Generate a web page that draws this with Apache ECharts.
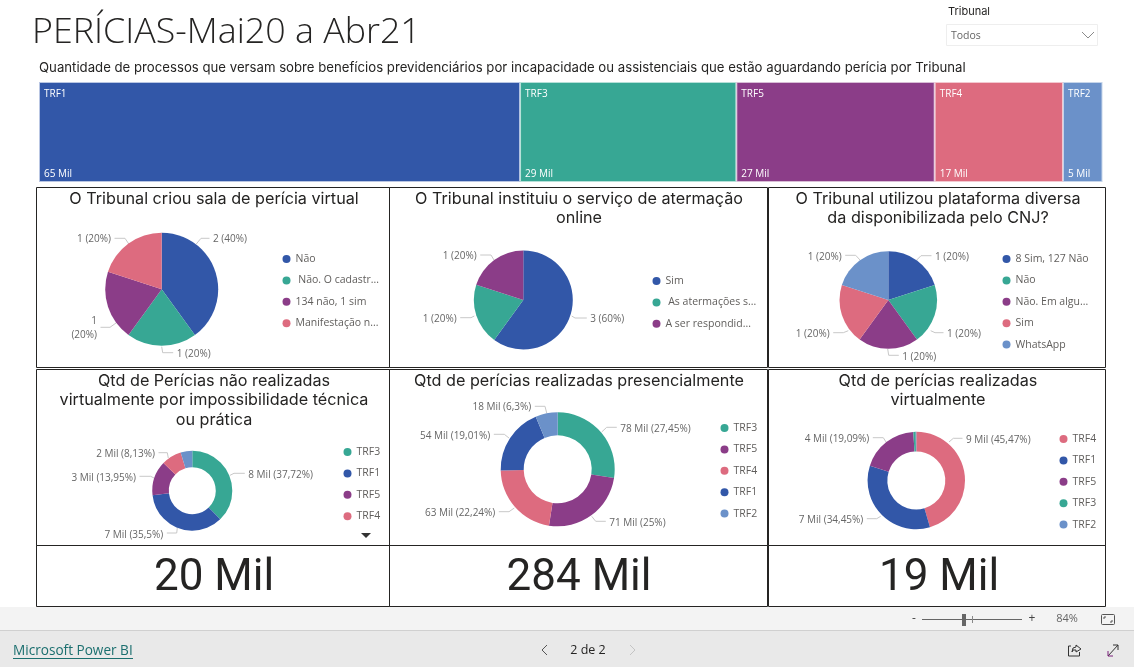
<!DOCTYPE html>
<html><head><meta charset="utf-8">
<style>html,body{margin:0;padding:0;background:#fff}#c{width:1134px;height:667px}</style>
<script src="https://cdn.jsdelivr.net/npm/echarts@6/dist/echarts.min.js"></script>
</head><body><div id="c"></div>
<script>
const BLUE='#3257A8',TEAL='#37A794',PURPLE='#8B3D88',PINK='#DD6B7F',SKY='#6B91C9';
const PALE={[BLUE]:'#b9c6e3',[TEAL]:'#b5e0d8',[PURPLE]:'#d8bdd6',[PINK]:'#f3c8d0',[SKY]:'#c6d5ea'};

// Treemap
const treeNames=['TRF1','TRF3','TRF5','TRF4','TRF2'];
const treeValues=[64.5,29.0,26.6,17.2,5.3];
const treeLabels=['65 Mil','29 Mil','27 Mil','17 Mil','5 Mil'];
const treeColors=[BLUE,TEAL,PURPLE,PINK,SKY];

// Pie 1
const p1Names=['Não',' Não. O cadastr...','134 não, 1 sim','Manifestação n...'];
const p1Values=[2,1,1,1];
const p1Labels=['2 (40%)','1 (20%)','1\n(20%)','1 (20%)'];
const p1Colors=[BLUE,TEAL,PURPLE,PINK];
// Pie 2
const p2Names=['Sim',' As atermações s...','A ser respondid...'];
const p2Values=[3,1,1];
const p2Labels=['3 (60%)','1 (20%)','1 (20%)'];
const p2Colors=[BLUE,TEAL,PURPLE];
// Pie 3
const p3Names=['8 Sim, 127 Não','Não','Não. Em algu...','Sim','WhatsApp'];
const p3Values=[1,1,1,1,1];
const p3Labels=['1 (20%)','1 (20%)','1 (20%)','1 (20%)','1 (20%)'];
const p3Colors=[BLUE,TEAL,PURPLE,PINK,SKY];
// Donut 4
const d4Names=['TRF3','TRF1','TRF5','TRF4','TRF2'];
const d4Values=[37.72,35.5,13.95,8.13,4.7];
const d4Labels=['8 Mil (37,72%)','7 Mil (35,5%)','3 Mil (13,95%)','2 Mil (8,13%)',''];
const d4Colors=[TEAL,BLUE,PURPLE,PINK,SKY];
const d4Legend=['TRF3','TRF1','TRF5','TRF4'];
// Donut 5
const d5Names=['TRF3','TRF5','TRF4','TRF1','TRF2'];
const d5Values=[27.45,25,22.24,19.01,6.3];
const d5Labels=['78 Mil (27,45%)','71 Mil (25%)','63 Mil (22,24%)','54 Mil (19,01%)','18 Mil (6,3%)'];
const d5Colors=[TEAL,PURPLE,PINK,BLUE,SKY];
// Donut 6
const d6Names=['TRF4','TRF1','TRF5','TRF3','TRF2'];
const d6Values=[45.47,34.45,19.09,0.8,0.19];
const d6Labels=['9 Mil (45,47%)','7 Mil (34,45%)','4 Mil (19,09%)','',''];
const d6Colors=[PINK,BLUE,PURPLE,TEAL,SKY];

const UI='"Open Sans","Noto Sans",sans-serif', DIN='Inter,Roboto,sans-serif', NUM='Roboto,sans-serif';

// Callout placement of the labels: [align, text x, text y, line start x, y, elbow x, y]
const L='left',R='right';
const p1Spots=[[L,213,239,196,244.3,201,238.3],[L,176.7,354,161.7,346.7,162.7,352.7],[R,97,328,116,323,110,327.3],[R,111,239,129,244.3,125,238.3]];
const p2Spots=[[L,590.3,319,571.7,316,575,318],[R,456.7,319,474.3,316,471,317.7],[R,476.7,255.7,494,260,491,255]];
const p3Spots=[[L,935,257,916.7,260,921,255.7],[L,947,333.7,930.7,330.7,935,332.7],[L,902.3,356.7,887.7,349,888.7,355.3],[R,829.7,333.7,848.3,330.7,843.3,332.7],[R,841.7,257,860,260,855.7,255.3]];
const d4Spots=[[L,248.3,474.7,230,475.3,234,473.3],[R,163.3,534.7,177.3,528,176.7,533],[R,136,477.7,154,478,150.7,476.3],[R,155,453.7,168.3,458,167.3,452.7]];
const d5Spots=[[L,620.3,428.7,601.7,432,606.7,427.3],[L,609.3,523,591.7,516.3,595.7,521.3],[R,495.3,512.7,514.3,508,509,511.7],[R,490.3,435.7,509,438,504.3,434.3],[R,531.3,407.3,546.7,413,545,406.3]];
const d6Spots=[[L,966,439.7,949,442,953.3,438.3],[R,863.3,519.7,880.7,516.3,876.7,518.7],[R,869.3,439,886.7,443,883.3,437.7]];

function pie(names,values,labels,colors,cx,cy,radius,spots){
  return {type:'pie',center:[cx,cy],radius,startAngle:90,clockwise:true,avoidLabelOverlap:false,
    silent:true,animation:false,
    labelLine:{length:8,length2:10,lineStyle:{color:'#c8c8c8',width:1}},
    label:{fontFamily:UI,fontSize:10,color:'#666666',lineHeight:14},
    labelLayout:p=>{
      const s=spots[p.dataIndex]; if(!s) return {};
      const tail=s[0]===L?s[1]-3.5:s[1]+3.5;
      return {x:s[1],y:s[2],align:s[0],verticalAlign:'middle',labelLinePoints:[[s[3],s[4]],[s[5],s[6]],[tail,s[6]]]};
    },
    data:names.map((n,i)=>({name:n,value:values[i],itemStyle:{color:colors[i]},
      label:{show:!!labels[i],formatter:labels[i]},labelLine:{show:!!labels[i]}}))};
}
function legend(names,colors,x,y){
  return {orient:'vertical',left:x-1.5,top:y-5,padding:0,itemGap:9.4,itemWidth:8,itemHeight:8,icon:'circle',selectedMode:false,
    textStyle:{fontFamily:UI,fontSize:10.5,color:'#605E5C',height:12,lineHeight:12},
    data:names.map((n,i)=>({name:n,itemStyle:{color:colors[i]}}))};
}
function title(text,x,y){
  return {text,left:x,top:y,textAlign:'center',padding:0,
    textStyle:{fontFamily:DIN,fontSize:16.2,fontWeight:400,color:'#252423',lineHeight:19.5}};
}
function txt(text,x,y,size,color,extra){
  return {type:'text',x,y:y+1,z:5,style:Object.assign({text,fontSize:size,fill:color,fontFamily:UI,verticalAlign:'middle'},extra||{})};
}
function box(x,y,w,h){return {type:'rect',z:3,shape:{x:x+.5,y:y+.5,width:w,height:h},style:{fill:'none',stroke:'#252423',lineWidth:1}};}
function line(pts,stroke,w){return {type:'polyline',z:5,shape:{points:pts},style:{fill:'none',stroke,lineWidth:w||1}};}
function kpi(text,x){return txt(text,x,578,44,'#252423',{fontFamily:NUM,textAlign:'center'});}

const graphics=[
 {type:'rect',z:1,shape:{x:0,y:607,width:1134,height:23},style:{fill:'#f3f3f3'}},
 {type:'rect',z:1,shape:{x:0,y:630,width:1134,height:37},style:{fill:'#e9e9e9'}},
 {type:'rect',z:2,shape:{x:0,y:630,width:1134,height:1},style:{fill:'#d0d0d0'}},
 box(36,187,353,180),box(389,187,378,180),box(768,187,337,180),
 box(36,369,353,176),box(389,369,378,176),box(768,369,337,176),
 box(36,545,353,61),box(389,545,378,61),box(768,545,337,61),
 txt('PERÍCIAS-Mai20 a Abr21',32,32,35.8,'#252423',{fontWeight:300}),
 txt('Quantidade de processos que versam sobre benefícios previdenciários por incapacidade ou assistenciais que estão aguardando perícia por Tribunal',39,67.5,13.2,'#252423',{fontFamily:DIN}),
 txt('Tribunal',948,10.5,11,'#252423',{fontFamily:DIN}),
 {type:'rect',z:3,shape:{x:946.5,y:24.5,width:151,height:21},style:{fill:'#fff',stroke:'#eeeeee',lineWidth:1}},
 txt('Todos',951,35.5,10.5,'#666'),
 line([[1082,32],[1088,38],[1094,32]],'#8a8a8a'),
 {type:'polygon',z:5,shape:{points:[[361,533],[371,533],[366,538]]},style:{fill:'#333'}},
 kpi('20 Mil',214),kpi('284 Mil',579),kpi('19 Mil',939),
 txt('Microsoft Power BI',13,650,13.6,'#1b6f6f',{fontWeight:500}),
 line([[13,658.5],[133,658.5]],'#1b6f6f'),
 txt('2 de 2',588,649,12.5,'#252423',{textAlign:'center',fontWeight:500}),
 line([[547,645],[542,650],[547,655]],'#555'),
 line([[630,645],[635,650],[630,655]],'#c4c4c4'),
 txt('-',914,618,12,'#444',{textAlign:'center'}),
 line([[922,619.5],[1022,619.5]],'#666'),
 line([[972.5,616],[972.5,623]],'#888'),
 {type:'rect',z:5,shape:{x:962,y:614,width:4,height:12},style:{fill:'#666'}},
 txt('+',1032,618,12,'#444',{textAlign:'center'}),
 txt('84%',1067,618,11,'#666',{textAlign:'center'}),
 {type:'rect',z:5,shape:{x:1101.5,y:614.5,width:13,height:10,r:1},style:{fill:'none',stroke:'#555',lineWidth:1}},
 line([[1104,619],[1104,617],[1106,617]],'#555'),
 line([[1112,620],[1112,622],[1110,622]],'#555'),
 line([[1071,646],[1068.5,646],[1068.5,656],[1079.5,656],[1079.5,652]],'#333'),
 line([[1072,652],[1073,648],[1076,647],[1076,645],[1081,649],[1076,652],[1076,650],[1073,650],[1072,652]],'#333'),
 line([[1108,656],[1118,645]],'#333'),
 line([[1113,645],[1118,645],[1118,650]],'#333'),
 line([[1108,651],[1108,656],[1113,656]],'#7a1f7a')
];

const option={
 backgroundColor:'#ffffff',animation:false,
 title:[
  title('O Tribunal criou sala de perícia virtual',214,189),
  title('O Tribunal instituiu o serviço de atermação\nonline',579,189),
  title('O Tribunal utilizou plataforma diversa\nda disponibilizada pelo CNJ?',938,189),
  title('Qtd de Perícias não realizadas\nvirtualmente por impossibilidade técnica\nou prática',214,371),
  title('Qtd de perícias realizadas presencialmente',579,371),
  title('Qtd de perícias realizadas\nvirtualmente',938,371)
 ],
 legend:[
  legend(p1Names,p1Colors,284,258),
  legend(p2Names,p2Colors,654,280),
  legend(p3Names,p3Colors,1004,258),
  legend(d4Legend,d4Colors,345,451),
  legend(d5Names,d5Colors,722,427),
  legend(d6Names,d6Colors,1061,438)
 ],
 series:[
  {type:'treemap',left:39,top:82,width:1063.5,height:100,roam:false,nodeClick:false,silent:true,animation:false,
   breadcrumb:{show:false},squareRatio:0.5,
   itemStyle:{gapWidth:0},
   label:{show:true,position:'insideTopLeft',distance:0,padding:[6,0,0,4],overflow:'none',fontFamily:UI,color:'#fff',
     rich:{a:{fontSize:10,fontFamily:UI,color:'#fff',lineHeight:78,verticalAlign:'top'},b:{fontSize:10,fontFamily:UI,color:'#fff',lineHeight:14}}},
   data:treeNames.map((n,i)=>({name:n,value:treeValues[i],
     itemStyle:{color:treeColors[i],borderColor:PALE[treeColors[i]],borderWidth:1},
     label:{formatter:'{a|'+n+'}\n{b|'+treeLabels[i]+'}'}}))},
  pie(p1Names,p1Values,p1Labels,p1Colors,161.7,289.3,[0,56.5],p1Spots),
  pie(p2Names,p2Values,p2Labels,p2Colors,523.3,300,[0,49.5],p2Spots),
  pie(p3Names,p3Values,p3Labels,p3Colors,888.3,300,[0,48.8],p3Spots),
  pie(d4Names,d4Values,d4Labels,d4Colors,192.3,490.7,[23.5,40],d4Spots),
  pie(d5Names,d5Values,d5Labels,d5Colors,557.7,469.3,[34,57],d5Spots),
  pie(d6Names,d6Values,d6Labels,d6Colors,916.3,480.5,[29,48.7],d6Spots)
 ],
 graphic:graphics
};
echarts.init(document.getElementById('c')).setOption(option);
</script></body></html>
